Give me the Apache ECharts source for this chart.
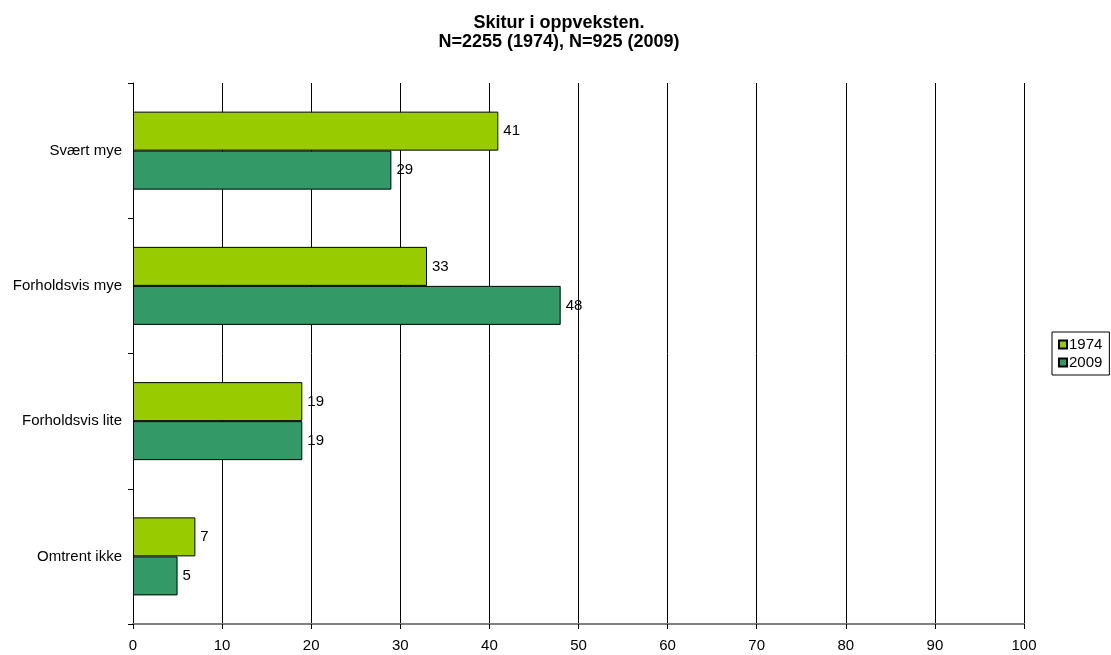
<!DOCTYPE html>
<html><head><meta charset="utf-8">
<script src="https://cdn.jsdelivr.net/npm/echarts@6/dist/echarts.min.js"></script>
<style>html,body{margin:0;padding:0;background:#fff}#c{width:1111px;height:655px}</style>
</head><body><div id="c"></div>
<script>
const categories = ['Svært mye', 'Forholdsvis mye', 'Forholdsvis lite', 'Omtrent ikke'];
const series1974 = [41, 33, 19, 7];
const series2009 = [29, 48, 19, 5];
const xTicks = [0, 10, 20, 30, 40, 50, 60, 70, 80, 90, 100];
const titleLines = ['Skitur i oppveksten.', 'N=2255 (1974), N=925 (2009)'];

const chart = echarts.init(document.getElementById('c'));
const font = 'Liberation Sans, Arial, sans-serif';
const lbl = {show: true, position: 'right', distance: 5, color: '#000', fontSize: 15, fontFamily: font};
chart.setOption({
  animation: false,
  title: {
    text: titleLines.join('\n'), left: 554, top: 9, textAlign: 'center',
    textStyle: {fontSize: 18, fontWeight: 'bold', fontFamily: font, color: '#000', lineHeight: 19}
  },
  legend: {
    orient: 'vertical', left: 1052, top: 332,
    itemWidth: 8, itemHeight: 8, itemGap: 3, icon: 'rect',
    borderColor: '#000', borderWidth: 1, padding: [5, 7, 5, 6],
    textStyle: {fontSize: 15, fontFamily: font, color: '#000', padding: [0, 0, 0, -3]},
    data: ['1974', '2009']
  },
  grid: {left: 133, right: 87, top: 83, bottom: 31, containLabel: false},
  xAxis: {
    type: 'value', min: xTicks[0], max: xTicks[xTicks.length - 1], interval: 10,
    axisLine: {show: true, lineStyle: {color: '#808080', width: 2}},
    axisTick: {show: true, length: 5, lineStyle: {color: '#000'}},
    axisLabel: {fontSize: 15, fontFamily: font, color: '#000', margin: 14},
    splitLine: {show: true, lineStyle: {color: '#000', width: 1}}
  },
  yAxis: {
    type: 'category', data: categories, inverse: true,
    axisLine: {show: true, lineStyle: {color: '#000'}},
    axisTick: {show: true, length: 5, lineStyle: {color: '#000'}},
    axisLabel: {fontSize: 15, fontFamily: font, color: '#000', margin: 11}
  },
  series: [
    {name: '1974', type: 'bar', data: series1974, barWidth: 39, barGap: '0%',
     itemStyle: {color: '#99CC00', borderColor: '#000', borderWidth: 1}, label: lbl},
    {name: '2009', type: 'bar', data: series2009, barWidth: 39, barGap: '0%',
     itemStyle: {color: '#339966', borderColor: '#000', borderWidth: 1}, label: lbl}
  ]
});
</script></body></html>
